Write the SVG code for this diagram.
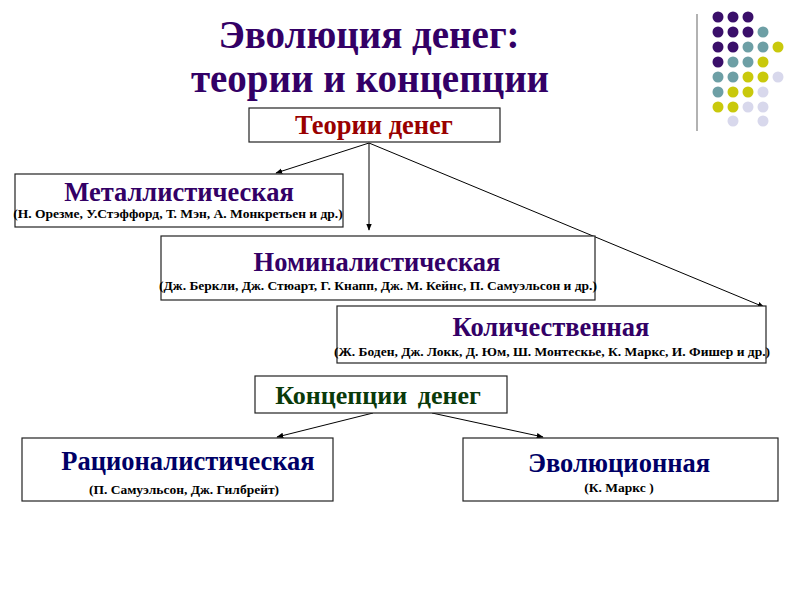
<svg xmlns="http://www.w3.org/2000/svg" width="800" height="600" viewBox="0 0 800 600">
<style>
text{font-family:"Liberation Serif","Times New Roman",serif;font-weight:bold;text-anchor:middle}
.ttl{font-size:39px;fill:#330066}
.box{fill:#fff;stroke:#222;stroke-width:1.2}
.h{font-size:26.5px;fill:#330066}
.s{font-size:13.5px;fill:#000}
.c{stroke:#000;stroke-width:1;fill:none;marker-end:url(#ah)}
.p{fill:#3a0f6a}.t{fill:#6d9fa5}.y{fill:#c9c90c}.l{fill:#d8d8ec}
</style>
<defs>
<marker id="ah" viewBox="0 0 10 10" refX="9" refY="5" markerWidth="7" markerHeight="7" orient="auto" markerUnits="userSpaceOnUse">
<path d="M0,1 L10,5 L0,9 Z" fill="#000"/>
</marker>
</defs>
<rect width="800" height="600" fill="#fff"/>
<g id="title">
<text class="ttl" x="369" y="48">Эволюция денег:</text>
<text class="ttl" x="370" y="92">теории и концепции</text>
</g>
<g id="decor">
<line x1="697" y1="14" x2="697" y2="131" stroke="#999" stroke-width="1.5"/>
<g>
<circle class="p" cx="718" cy="17" r="5.5"/><circle class="p" cx="733" cy="17" r="5.5"/><circle class="p" cx="748" cy="17" r="5.5"/>
<circle class="p" cx="718" cy="32" r="5.5"/><circle class="p" cx="733" cy="32" r="5.5"/><circle class="p" cx="748" cy="32" r="5.5"/><circle class="t" cx="763" cy="32" r="5.5"/>
<circle class="p" cx="718" cy="47" r="5.5"/><circle class="p" cx="733" cy="47" r="5.5"/><circle class="t" cx="748" cy="47" r="5.5"/><circle class="t" cx="763" cy="47" r="5.5"/><circle class="y" cx="778" cy="47" r="5.5"/>
<circle class="p" cx="718" cy="62" r="5.5"/><circle class="t" cx="733" cy="62" r="5.5"/><circle class="t" cx="748" cy="62" r="5.5"/><circle class="y" cx="763" cy="62" r="5.5"/>
<circle class="t" cx="718" cy="77" r="5.5"/><circle class="t" cx="733" cy="77" r="5.5"/><circle class="y" cx="748" cy="77" r="5.5"/><circle class="y" cx="763" cy="77" r="5.5"/><circle class="l" cx="778" cy="77" r="5.5"/>
<circle class="t" cx="718" cy="92" r="5.5"/><circle class="y" cx="733" cy="92" r="5.5"/><circle class="y" cx="748" cy="92" r="5.5"/><circle class="l" cx="763" cy="92" r="5.5"/>
<circle class="y" cx="718" cy="107" r="5.5"/><circle class="y" cx="733" cy="107" r="5.5"/><circle class="l" cx="748" cy="107" r="5.5"/><circle class="l" cx="763" cy="107" r="5.5"/>
<circle class="l" cx="733" cy="121" r="5.5"/><circle class="l" cx="763" cy="121" r="5.5"/>
</g>
</g>
<g id="connectors">
<line class="c" x1="369" y1="143" x2="276" y2="173"/>
<line class="c" x1="369" y1="143" x2="369" y2="230"/>
<line class="c" x1="369" y1="143" x2="764" y2="307"/>
<line class="c" x1="373" y1="413" x2="277" y2="437"/>
<line class="c" x1="432" y1="413" x2="543" y2="437"/>
</g>
<g id="theories">
<rect class="box" x="249" y="108" width="251" height="34"/>
<text x="374" y="134" style="font-size:26.5px;fill:#990000">Теории денег</text>
</g>
<g id="metal">
<rect class="box" x="15" y="174" width="328" height="53"/>
<text class="h" x="179" y="201">Металлистическая</text>
<text class="s" x="178" y="218">(Н. Орезме, У.Стэффорд, Т. Мэн, А. Монкретьен и др.)</text>
</g>
<g id="nominal">
<rect class="box" x="161" y="236" width="434" height="64"/>
<text class="h" x="377" y="271">Номиналистическая</text>
<text class="s" x="378" y="290">(Дж. Беркли, Дж. Стюарт, Г. Кнапп, Дж. М. Кейнс, П. Самуэльсон и др.)</text>
</g>
<g id="quant">
<rect class="box" x="337" y="306" width="429" height="57"/>
<text class="h" x="551" y="336">Количественная</text>
<text class="s" x="552" y="356">(Ж. Боден, Дж. Локк, Д. Юм, Ш. Монтескье, К. Маркс, И. Фишер и др.)</text>
</g>
<g id="concepts">
<rect class="box" x="255" y="376" width="252" height="37"/>
<text x="378" y="404" style="font-size:26px;fill:#0a3a0a;word-spacing:4px">Концепции денег</text>
</g>
<g id="rational">
<rect class="box" x="22" y="438" width="311" height="63"/>
<text x="188" y="470" style="font-size:26.5px;fill:#000066">Рационалистическая</text>
<text class="s" x="184" y="494">(П. Самуэльсон, Дж. Гилбрейт)</text>
</g>
<g id="evol">
<rect class="box" x="463" y="438" width="315" height="63"/>
<text x="619" y="472" style="font-size:26.5px;fill:#000066">Эволюционная</text>
<text class="s" x="619" y="492">(К. Маркс )</text>
</g>
</svg>
